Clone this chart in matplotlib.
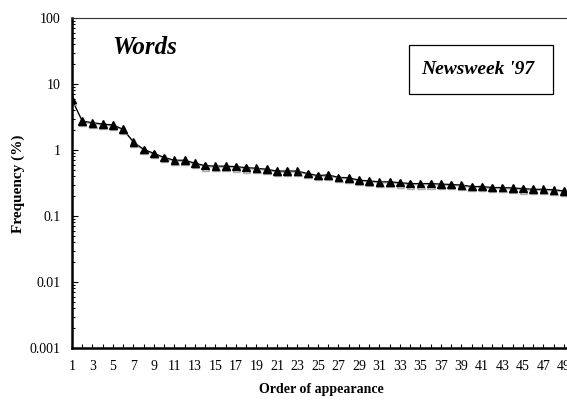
import matplotlib
matplotlib.use("Agg")
import matplotlib.pyplot as plt
import matplotlib.patheffects as pe
from matplotlib.patches import Rectangle
from matplotlib.ticker import FixedLocator, LogLocator, NullFormatter

plt.rcParams['font.family'] = ['Liberation Serif', 'DejaVu Serif']

order = list(range(1, 50))
frequency = [5.8, 2.75, 2.59, 2.48, 2.39, 2.06, 1.32, 1.02, 0.89, 0.77,
             0.70, 0.70, 0.63, 0.58, 0.57, 0.57, 0.56, 0.54, 0.53, 0.51,
             0.48, 0.48, 0.48, 0.44, 0.41, 0.42, 0.385, 0.38, 0.35, 0.34,
             0.33, 0.33, 0.32, 0.31, 0.31, 0.31, 0.305, 0.30, 0.295, 0.28,
             0.28, 0.27, 0.27, 0.266, 0.26, 0.254, 0.254, 0.25, 0.24]
y_ticks = [0.001, 0.01, 0.1, 1, 10, 100]
y_tick_labels = ['0.001', '0.01', '0.1', '1', '10', '100']
x_tick_labels = [str(v) for v in range(1, 50, 2)]

W, H = 567, 400
fig = plt.figure(figsize=(W / 100, H / 100), dpi=100)
ax = fig.add_axes([72 / W, 1 - 348 / H, 1 - 72 / W, 330 / H])

ax.plot(order, frequency, color='black', lw=0.9, marker='^', ms=5.5,
        markerfacecolor='black', markeredgecolor='black',
        path_effects=[pe.SimpleLineShadow(offset=(0.3, -0.8), shadow_color='#999999', alpha=0.8),
                      pe.Normal()])

ax.set_yscale('log')
ax.set_ylim(0.001, 100)
ax.set_xlim(1, 49.3)

ax.yaxis.set_major_locator(FixedLocator(y_ticks))
ax.set_yticklabels(y_tick_labels)
ax.yaxis.set_minor_locator(LogLocator(base=10, subs=range(2, 10)))
ax.yaxis.set_minor_formatter(NullFormatter())

ax.set_xticks(order, minor=True)
ax.set_xticks(list(range(1, 50, 2)))
ax.set_xticklabels(x_tick_labels)

ax.tick_params(axis='both', which='both', direction='in', width=0.8, labelsize=10,
               colors='black')
ax.tick_params(axis='y', which='major', length=4, pad=8)
ax.tick_params(axis='y', which='minor', length=2.5)
ax.tick_params(axis='x', which='both', length=3, pad=9)

for side in ('left', 'bottom'):
    ax.spines[side].set_linewidth(1.8)
ax.spines['top'].set_linewidth(0.8)
ax.spines['top'].set_color('#333333')
ax.spines['right'].set_visible(False)

fig.text(18 / W, 1 - 184 / H, 'Frequency (%)', fontsize=11, fontweight='bold',
         rotation=90, ha='center', va='center')
fig.text(321 / W, 1 - 389 / H, 'Order of appearance', fontsize=10, fontweight='bold',
         ha='center', va='center')

fig.text(145 / W, 1 - 47 / H, 'Words', fontsize=18, fontweight='bold', style='italic',
         ha='center', va='center')

fig.patches.append(Rectangle((409 / W, 1 - 94 / H), 144 / W, 49 / H, transform=fig.transFigure,
                             facecolor='white', edgecolor='black', lw=0.9, zorder=3))
fig.text(478 / W, 1 - 70 / H, "Newsweek '97", fontsize=14, fontweight='bold', style='italic',
         ha='center', va='center', zorder=4)

fig.savefig('out.png', dpi=100)
